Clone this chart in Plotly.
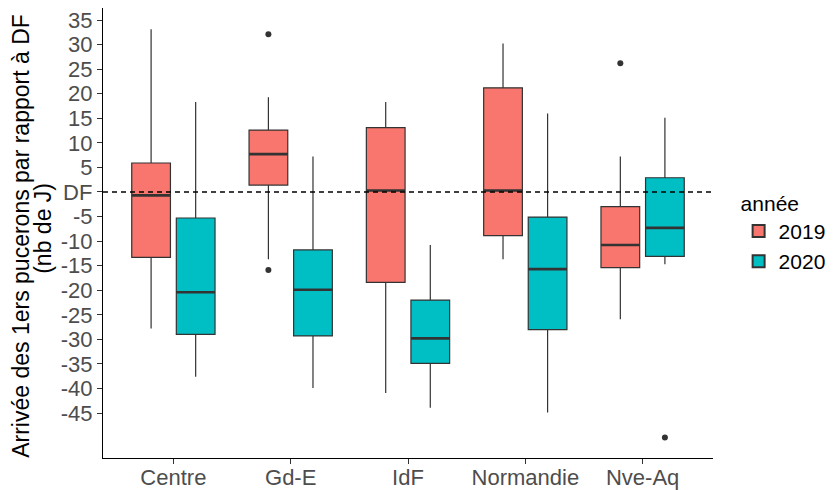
import plotly.graph_objects as go

categories = ["Centre", "Gd-E", "IdF", "Normandie", "Nve-Aq"]
years = ["2019", "2020"]
colors = {"2019": "#F8766D", "2020": "#00BFC4"}

# per-year box statistics (days relative to DF), one value per category
lower_2019 = [-27.8, -13.7, -40.9, -13.7, -25.9]
q1_2019 = [-13.3, 1.4, -18.4, -8.9, -15.4]
median_2019 = [-0.7, 7.7, 0.3, 0.3, -10.8]
q3_2019 = [5.9, 12.6, 13.1, 21.2, -3.0]
upper_2019 = [33.1, 19.3, 18.3, 30.2, 7.2]

lower_2020 = [-37.6, -39.9, -43.9, -44.9, -14.7]
q1_2020 = [-29.0, -29.3, -34.9, -28.0, -13.1]
median_2020 = [-20.4, -19.9, -29.8, -15.7, -7.3]
q3_2020 = [-5.3, -11.8, -22.0, -5.1, 2.9]
upper_2020 = [18.3, 7.2, -10.8, 16.0, 15.1]

# outliers: (category, value)
outliers_2019 = [("Gd-E", 32.1), ("Gd-E", -15.9), ("Nve-Aq", 26.2)]
outliers_2020 = [("Nve-Aq", -50.0)]

ytick_vals = [35, 30, 25, 20, 15, 10, 5, 0, -5, -10, -15, -20, -25, -30, -35, -40, -45]
ytick_text = ["35", "30", "25", "20", "15", "10", "5", "DF", "-5", "-10", "-15", "-20",
              "-25", "-30", "-35", "-40", "-45"]
ytitle_lines = ["Arrivée des 1ers pucerons par rapport à DF", "(nb de J)"]

stats = {
    "2019": (lower_2019, q1_2019, median_2019, q3_2019, upper_2019, outliers_2019),
    "2020": (lower_2020, q1_2020, median_2020, q3_2020, upper_2020, outliers_2020),
}

DODGE = 0.19
BOXW = 0.33
pos = {c: i + 1 for i, c in enumerate(categories)}
offset = {"2019": -DODGE, "2020": DODGE}

fig = go.Figure()
for yr in years:
    lo, q1, md, q3, up, outl = stats[yr]
    xs = [pos[c] + offset[yr] for c in categories]
    fig.add_trace(go.Box(
        x=xs, q1=q1, median=md, q3=q3, lowerfence=lo, upperfence=up,
        width=BOXW, name=yr, fillcolor=colors[yr],
        line=dict(color="#333333", width=1.2), whiskerwidth=0,
        boxpoints=False, hoverinfo="skip", legendgroup=yr,
    ))
    # thicker median lines (ggplot style)
    mx, my = [], []
    for x, m in zip(xs, md):
        mx += [x - BOXW / 2, x + BOXW / 2, None]
        my += [m, m, None]
    fig.add_trace(go.Scatter(x=mx, y=my, mode="lines",
                             line=dict(color="#333333", width=2.6),
                             showlegend=False, hoverinfo="skip"))
    if outl:
        fig.add_trace(go.Scatter(
            x=[pos[c] + offset[yr] for c, _ in outl], y=[v for _, v in outl],
            mode="markers", marker=dict(color="#333333", size=6),
            showlegend=False, hoverinfo="skip"))

fig.add_hline(y=0, line=dict(color="black", width=1.3, dash="5px,4px"))

# y-axis title as two rotated lines
for txt, xp, yp in zip(ytitle_lines, [-0.1345, -0.0985], [0.4937, 0.5114]):
    fig.add_annotation(text=txt, textangle=-90, xref="paper", yref="paper",
                       x=xp, y=yp, xanchor="center", yanchor="middle",
                       showarrow=False, font=dict(size=23, color="black"))

# the page body adds an 8px offset, so the figure is 8px smaller than the window
fig.update_layout(
    width=827, height=482,
    margin=dict(l=95, r=122, t=0, b=32, autoexpand=False),
    plot_bgcolor="white", paper_bgcolor="white",
    font=dict(family="Liberation Sans, Arial, sans-serif", size=22, color="black"),
    legend=dict(title=dict(text="année", font=dict(size=21, color="black")),
                x=1.042, y=0.61, xanchor="left", yanchor="top",
                font=dict(size=21, color="black"), tracegroupgap=0, itemsizing="constant"),
)
fig.update_xaxes(
    range=[0.4, 5.6], tickvals=[pos[c] for c in categories], ticktext=categories,
    showline=True, linecolor="black", linewidth=1.3, ticks="outside", ticklen=5,
    tickcolor="#333333", tickfont=dict(size=22, color="#4D4D4D"), showgrid=False,
    zeroline=False, automargin=False, ticklabelstandoff=-6, ticklabeloverflow="allow",
)
fig.update_yaxes(
    range=[-54.15, 37.45], tickvals=ytick_vals, ticktext=ytick_text,
    showline=True, linecolor="black", linewidth=1.3, ticks="outside", ticklen=5,
    tickcolor="#333333", tickfont=dict(size=22, color="#4D4D4D"), showgrid=False,
    zeroline=False, automargin=False, ticklabeloverflow="allow",
)

fig.write_html("out.html")
